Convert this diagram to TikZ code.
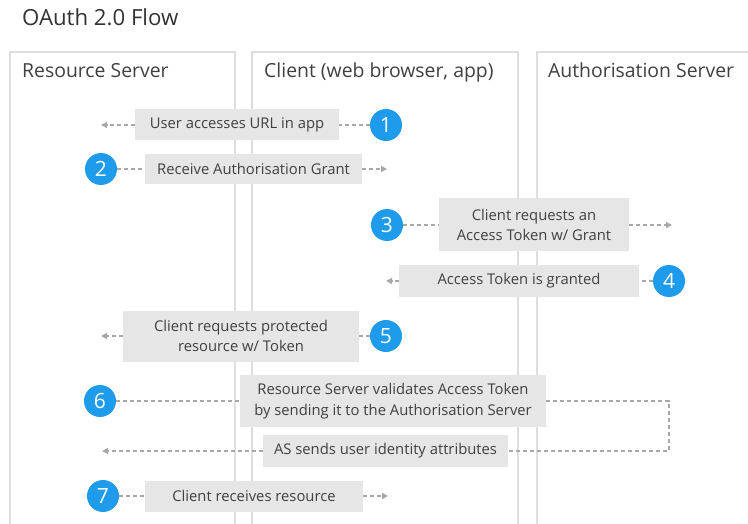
\documentclass[tikz,border=0pt]{standalone}
\usepackage{fontspec}
\setmainfont{Open Sans}
\usetikzlibrary{arrows.meta}
\definecolor{boxgray}{HTML}{E6E6E6}
\definecolor{colline}{HTML}{DEDEDE}
\definecolor{dashgray}{HTML}{A8A8A8}
\definecolor{numblue}{HTML}{1E9BEA}
\definecolor{txt}{HTML}{404040}
\begin{document}
\begin{tikzpicture}[x=1pt,y=-1pt,
  msg/.style={fill=boxgray, text=txt, font=\fontsize{14.8}{20.5}\selectfont, inner sep=0pt, align=center},
  num/.style={circle, fill=numblue, text=white, minimum size=32pt, inner sep=0pt, font=\fontsize{21}{21}\selectfont},
  link/.style={draw=dashgray, line width=1.5pt, dash pattern=on 4pt off 3pt},
  arr/.style={link, -{Triangle[length=6pt,width=6pt]}},
  col/.style={draw=colline, line width=2pt},
  hdr/.style={anchor=base west, text=txt, inner sep=0pt, font=\fontsize{19.4}{19.4}\selectfont}]
\useasboundingbox (0,0) rectangle (748,524);
\clip (0,0) rectangle (748,524);
% columns
\draw[col] (10,540) -- (10,52) -- (235,52) -- (235,540);
\draw[col] (252,540) -- (252,52) -- (518,52) -- (518,540);
\draw[col] (537,540) -- (537,52) -- (770,52);
% title and headers
\node[hdr, font=\fontsize{22.2}{22.2}\selectfont, text=black!80] (title) at (22,26) {OAuth 2.0 Flow};
\node[hdr] (hrs) at (22,78) {Resource Server};
\node[hdr] (hcl) at (264,78) {Client (web browser, app)};
\node[hdr] (has) at (548,78) {Authorisation Server};
% messages
\node[msg, minimum width=204pt, minimum height=31pt] (b1) at (237,125) {User accesses URL in app};
\node[msg, minimum width=217pt, minimum height=30pt] (b2) at (253.5,169) {Receive Authorisation Grant};
\node[msg, minimum width=190pt, minimum height=53pt] (b3) at (534,225) {Client requests an\\Access Token w/ Grant};
\node[msg, minimum width=240pt, minimum height=31pt] (b4) at (519,281) {Access Token is granted};
\node[msg, minimum width=236pt, minimum height=51pt] (b5) at (241,336) {Client requests protected\\resource w/ Token};
\node[msg, minimum width=306pt, minimum height=52pt] (b6) at (393,401) {Resource Server validates Access Token\\by sending it to the Authorisation Server};
\node[msg, minimum width=245pt, minimum height=32pt] (bas) at (385.5,451) {AS sends user identity attributes};
\node[msg, minimum width=218pt, minimum height=31pt] (b7) at (254,496) {Client receives resource};
% numbers
\node[num] (n1) at (386,125) {1};
\node[num] (n2) at (101,169) {2};
\node[num] (n3) at (387,225) {3};
\node[num] (n4) at (669,281) {4};
\node[num] (n5) at (386,336) {5};
\node[num] (n6) at (100,401) {6};
\node[num] (n7) at (103,496) {7};
% targets
\coordinate (t1) at (101,125);
\coordinate (t2) at (387,169);
\coordinate (t3) at (672,225);
\coordinate (t4) at (386,281);
\coordinate (t5) at (101,336);
\coordinate (t6) at (102,451);
\coordinate (t7) at (388,496);
\coordinate (c6a) at (669,401);
\coordinate (c6b) at (669,451);
% connectors
\draw[link] (n1) -- (b1); \draw[arr] (b1) -- (t1);
\draw[link] (n2) -- (b2); \draw[arr] (b2) -- (t2);
\draw[link] (n3) -- (b3); \draw[arr] (b3) -- (t3);
\draw[link] (n4) -- (b4); \draw[arr] (b4) -- (t4);
\draw[link] (n5) -- (b5); \draw[arr] (b5) -- (t5);
\draw[link] (n6) -- (b6);
\draw[link] (b6.east) -- (c6a) -- (c6b) -- (bas.east);
\draw[arr] (bas) -- (t6);
\draw[link] (n7) -- (b7); \draw[arr] (b7) -- (t7);
\end{tikzpicture}
\end{document}
